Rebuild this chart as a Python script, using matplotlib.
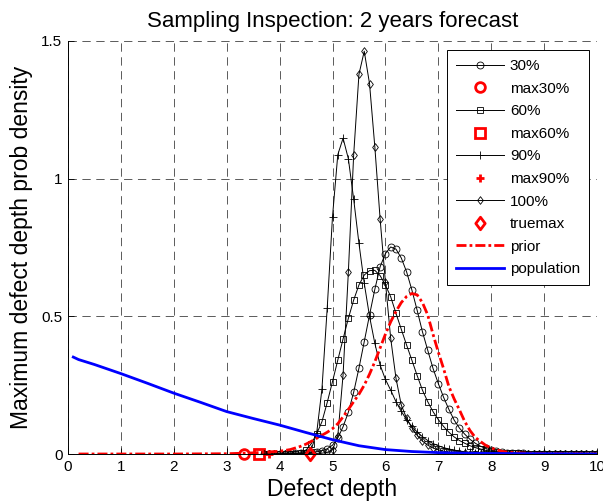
import numpy as np
import matplotlib
matplotlib.use("Agg")
import matplotlib.pyplot as plt
from matplotlib.path import Path

plt.rcParams['font.family'] = ['Liberation Sans', 'DejaVu Sans']
plt.rcParams['lines.scale_dashes'] = False

# ---------------- data ----------------
depth = np.round(np.arange(3.7, 10.001, 0.1), 1)   # x grid of sampled curves

p30 = [0.0, 0.0, 0.0, 0.001, 0.001, 0.001, 0.002, 0.002, 0.003, 0.005,
       0.008, 0.012, 0.019, 0.032, 0.058, 0.099, 0.152, 0.224, 0.312, 0.408,
       0.505, 0.598, 0.68, 0.728, 0.752, 0.744, 0.712, 0.662, 0.596, 0.522,
       0.444, 0.377, 0.311, 0.256, 0.206, 0.162, 0.123, 0.094, 0.072, 0.053,
       0.039, 0.028, 0.02, 0.014, 0.01, 0.007, 0.005, 0.003, 0.002, 0.002,
       0.001, 0.001, 0.0, 0.0, 0.0, 0.0, 0.0, 0.0, 0.0, 0.0,
       0.0, 0.0, 0.0, 0.0]

p60 = [0.0, 0.0, 0.0, 0.0, 0.0, 0.0, 0.001, 0.004, 0.014, 0.038,
       0.073, 0.117, 0.187, 0.263, 0.341, 0.418, 0.493, 0.559, 0.614, 0.65,
       0.666, 0.667, 0.648, 0.614, 0.571, 0.511, 0.453, 0.396, 0.341, 0.285,
       0.232, 0.19, 0.154, 0.125, 0.1, 0.079, 0.062, 0.049, 0.039, 0.03,
       0.023, 0.018, 0.013, 0.01, 0.007, 0.005, 0.004, 0.003, 0.002, 0.001,
       0.001, 0.0, 0.0, 0.0, 0.0, 0.0, 0.0, 0.0, 0.0, 0.0,
       0.0, 0.0, 0.0, 0.0]

p90 = [0.0, 0.0, 0.0, 0.0, 0.0, 0.0, 0.0, 0.001, 0.004, 0.018,
       0.075, 0.235, 0.53, 0.862, 1.087, 1.147, 1.072, 0.926, 0.765, 0.62,
       0.5, 0.402, 0.323, 0.271, 0.232, 0.19, 0.155, 0.125, 0.1, 0.08,
       0.063, 0.049, 0.038, 0.03, 0.023, 0.018, 0.014, 0.011, 0.008, 0.006,
       0.005, 0.004, 0.003, 0.002, 0.002, 0.001, 0.001, 0.0, 0.0, 0.0,
       0.0, 0.0, 0.0, 0.0, 0.0, 0.0, 0.0, 0.0, 0.0, 0.0,
       0.0, 0.0, 0.0, 0.0]

p100 = [0.0, 0.0, 0.0, 0.0, 0.0, 0.0, 0.0, 0.0, 0.001, 0.001,
        0.002, 0.003, 0.006, 0.015, 0.065, 0.288, 0.662, 1.086, 1.379, 1.463,
        1.345, 1.116, 0.854, 0.625, 0.42, 0.275, 0.178, 0.13, 0.095, 0.068,
        0.047, 0.032, 0.022, 0.015, 0.01, 0.007, 0.005, 0.003, 0.002, 0.001,
        0.001, 0.0, 0.0, 0.0, 0.0, 0.0, 0.0, 0.0, 0.0, 0.0,
        0.0, 0.0, 0.0, 0.0, 0.0, 0.0, 0.0, 0.0, 0.0, 0.0,
        0.0, 0.0, 0.0, 0.0]

max30_x, max30_y = [3.32], [0.0]
max60_x, max60_y = [3.61], [0.0]
max90_x, max90_y = [3.80], [0.0]
truemax_x, truemax_y = [4.57], [0.0]

prior_x = [0.2, 1.0, 2.0, 3.0, 3.5, 4.0, 4.2, 4.4, 4.5, 4.6, 4.7, 4.8, 4.9,
           5.0, 5.1, 5.2, 5.3, 5.4, 5.5, 5.6, 5.7, 5.8, 5.9, 6.0, 6.1, 6.2,
           6.3, 6.4, 6.5, 6.6, 6.7, 6.8, 6.9, 7.0, 7.1, 7.2, 7.3, 7.4, 7.5,
           7.6, 7.7, 7.8, 7.9, 8.0, 8.1, 8.2, 8.3, 8.5, 9.0, 10.0]
prior_y = [0.0, 0.0, 0.0, 0.001, 0.004, 0.01, 0.016, 0.028, 0.036, 0.046,
           0.057, 0.068, 0.079, 0.092, 0.11, 0.135, 0.162, 0.19, 0.217, 0.25,
           0.29, 0.335, 0.385, 0.435, 0.48, 0.518, 0.55, 0.572, 0.583, 0.578,
           0.55, 0.505, 0.435, 0.37, 0.31, 0.245, 0.2, 0.16, 0.118, 0.085,
           0.06, 0.045, 0.031, 0.022, 0.015, 0.01, 0.007, 0.004, 0.001, 0.0]

pop_x = [0.1, 0.2, 0.5, 1.0, 1.5, 2.0, 2.5, 3.0, 3.5, 4.0, 4.5, 5.0, 5.5,
         6.0, 6.5, 7.0, 7.5, 8.0, 9.0, 10.0]
pop_y = [0.352, 0.343, 0.325, 0.292, 0.257, 0.221, 0.188, 0.154, 0.129,
         0.105, 0.078, 0.052, 0.03, 0.016, 0.009, 0.005, 0.003, 0.002, 0.001, 0.0]

xticks = [0, 1, 2, 3, 4, 5, 6, 7, 8, 9, 10]
yticks = [0, 0.5, 1, 1.5]
yticklabels = ['0', '0.5', '1', '1.5']

# MATLAB-like diamond (slightly narrower than tall)
diamond = Path([(0, 1), (0.75, 0), (0, -1), (-0.75, 0), (0, 1)],
               [Path.MOVETO, Path.LINETO, Path.LINETO, Path.LINETO, Path.CLOSEPOLY])

# ---------------- figure ----------------
fig = plt.figure(figsize=(6.03, 5.04), dpi=100)
ax = fig.add_axes([68/603, 50/504, 529/603, 413/504])

blk = dict(color='k', lw=0.7, mfc='none', mec='k', mew=0.6)
ax.plot(depth, p30, marker='o', ms=5.0, label='30%', **blk)
ax.plot(max30_x, max30_y, ls='none', marker='o', ms=7, mfc='none', mec='r', mew=2, label='max30%', clip_on=False)
ax.plot(depth, p60, marker='s', ms=4.6, label='60%', **blk)
ax.plot(max60_x, max60_y, ls='none', marker='s', ms=7, mfc='none', mec='r', mew=2, label='max60%', clip_on=False)
ax.plot(depth, p90, marker='+', ms=5.5, label='90%', **blk)
ax.plot(max90_x, max90_y, ls='none', marker='+', ms=6, mfc='none', mec='r', mew=2, label='max90%', clip_on=False)
ax.plot(depth, p100, marker=diamond, ms=5.5, label='100%', **blk)
ax.plot(truemax_x, truemax_y, ls='none', marker=diamond, ms=9, mfc='none', mec='r', mew=2, label='truemax', clip_on=False)
ax.plot(prior_x, prior_y, color='r', lw=2, ls=(0, (7.2, 2.2, 2.0, 2.2)), label='prior')
ax.plot(pop_x, pop_y, color='b', lw=2, label='population')

ax.set_xlim(0, 10)
ax.set_ylim(0, 1.5)
ax.set_xticks(xticks)
ax.set_xticklabels([str(t) for t in xticks])
ax.set_yticks(yticks)
ax.set_yticklabels(yticklabels)
ax.tick_params(direction='in', length=4, width=0.6, labelsize=11, pad=4)

ax.spines['top'].set_visible(False)
ax.spines['right'].set_visible(False)
ax.spines['left'].set_linewidth(0.7)
ax.spines['bottom'].set_linewidth(0.7)
ax.grid(True, color='0.25', lw=0.6, ls=(0, (6, 4)))
ax.set_axisbelow(True)

ax.set_title('Sampling Inspection: 2 years forecast', fontsize=16, pad=10)
ax.set_xlabel('Defect depth', fontsize=16.5, labelpad=3)
ax.set_ylabel('Maximum defect depth prob density', fontsize=16.5, labelpad=6)

leg = ax.legend(loc='upper right', bbox_to_anchor=(0.985, 0.978), borderaxespad=0,
                fontsize=11, frameon=True, fancybox=False, edgecolor='k',
                framealpha=1, handlelength=3.1, handletextpad=0.4,
                labelspacing=0.56, borderpad=0.6, numpoints=1)
leg.get_frame().set_linewidth(0.7)

fig.savefig('out.png', dpi=100)
